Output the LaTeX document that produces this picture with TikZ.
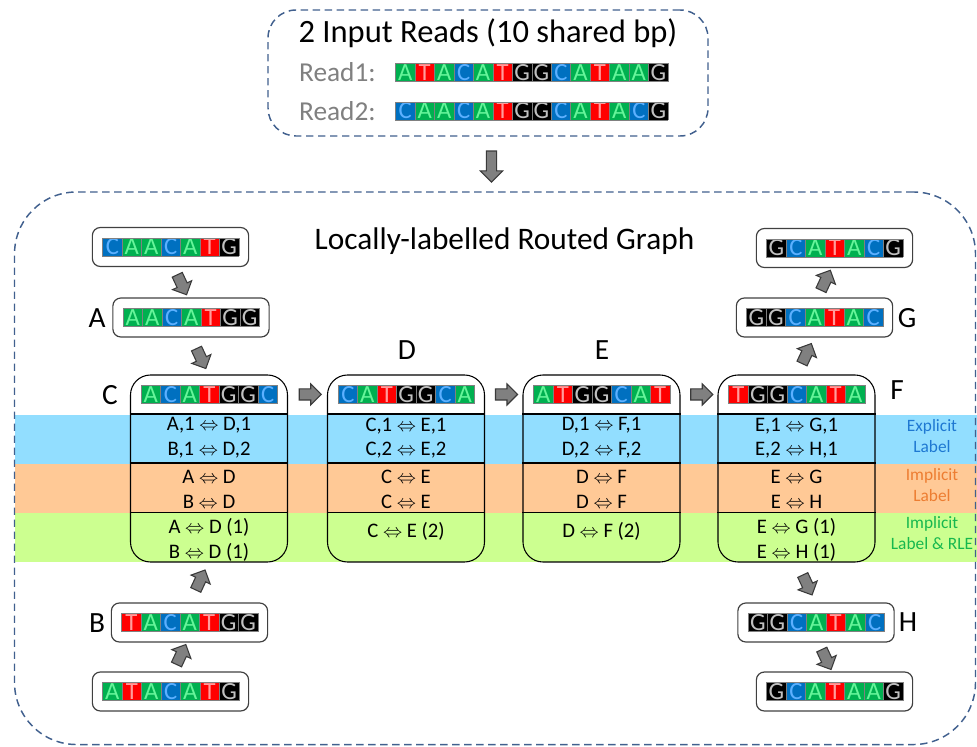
\documentclass[tikz,border=0pt]{standalone}
\usepackage{fontspec}
\setmainfont{Carlito}
\usetikzlibrary{shapes.arrows,calc}
\definecolor{Abg}{HTML}{00B050}
\definecolor{Afg}{HTML}{66F59A}
\definecolor{Tbg}{HTML}{FF0000}
\definecolor{Tfg}{HTML}{FF9C9C}
\definecolor{Cbg}{HTML}{0070C0}
\definecolor{Cfg}{HTML}{5CB0FF}
\definecolor{Gbg}{HTML}{000000}
\definecolor{Gfg}{HTML}{C0C0C0}
\definecolor{cellbd}{HTML}{808080}
\definecolor{bandB}{HTML}{92DEFF}
\definecolor{bandO}{HTML}{FFC996}
\definecolor{bandG}{HTML}{CCFF90}
\definecolor{labB}{HTML}{1E78D2}
\definecolor{labO}{HTML}{ED7D31}
\definecolor{labG}{HTML}{16B84E}
\definecolor{dashc}{HTML}{41608E}
\definecolor{arrowfill}{HTML}{808080}
\definecolor{arrowdraw}{HTML}{3A3A3A}
\definecolor{readgray}{HTML}{808080}
\definecolor{boxc}{HTML}{404040}
\setlength{\fboxsep}{0pt}
\setlength{\fboxrule}{0.4pt}
\newlength\cellw \setlength\cellw{14.2pt}
\newlength\cellh \setlength\cellh{13.45pt}
\newlength\celldp \setlength\celldp{0.8pt}
\newcommand\cell[3]{\fcolorbox{cellbd}{#1}{\makebox[\cellw][c]{\rule[-\celldp]{0pt}{\cellh}\textcolor{#2}{#3}}}\kern-\fboxrule}
\def\bA{\cell{Abg}{Afg}{A}}
\def\bT{\cell{Tbg}{Tfg}{T}}
\def\bC{\cell{Cbg}{Cfg}{C}}
\def\bG{\cell{Gbg}{Gfg}{G}}
\def\seq#1{\seqloop#1\relax}
\def\seqloop#1{\ifx\relax#1\else\csname b#1\endcsname\expandafter\seqloop\fi}
\newcommand\seqfont{\fontsize{18.5}{18.5}\selectfont}
\newcommand\lr{$\Leftrightarrow$}
\begin{document}
\begin{tikzpicture}[x=0.75pt,y=-0.75pt,
 dashbox/.style={draw=dashc, line width=1.1pt, dash pattern=on 5.5pt off 3.5pt, inner sep=0pt},
 seqbox/.style={draw=boxc, line width=0.9pt, rounded corners=6pt, inner sep=7.5pt, font=\seqfont},
 seqplain/.style={inner sep=0pt, font=\seqfont},
 bigbox/.style={draw=black, line width=0.8pt, rounded corners=15pt, minimum width=117.75pt, minimum height=140.25pt, inner sep=0pt},
 edgetxt/.style={font=\fontsize{15.5}{18.5}\selectfont, align=center, inner sep=0pt},
 nlab/.style={font=\fontsize{22}{26}\selectfont, inner sep=0pt},
 bandlab/.style={font=\fontsize{13}{15.5}\selectfont, align=center, inner sep=0pt},
 readlab/.style={font=\fontsize{20.5}{24}\selectfont, text=readgray, inner sep=0pt},
 barrow/.style={single arrow, draw=arrowdraw, fill=arrowfill, line width=0.8pt, minimum height=16.5pt, minimum width=15pt, single arrow head extend=3.75pt, single arrow head indent=0pt, inner xsep=0pt, inner ysep=3.75pt},
 bigarrow/.style={barrow, minimum height=23.25pt, minimum width=15.75pt, single arrow head extend=4.5pt, inner ysep=3.4pt}]
\useasboundingbox (0,0) rectangle (977,746);
% bands
\fill[bandB] (15,414.5) rectangle (977,463.5);
\fill[bandO] (15,463.5) rectangle (977,513);
\fill[bandG] (15,513) rectangle (977,562);
% boxes
\node[dashbox, minimum width=330pt, minimum height=94.5pt, rounded corners=21pt] (inbox) at (488,73) {};
\node[dashbox, minimum width=720.75pt, minimum height=414.4pt, rounded corners=46.5pt] (graph) at (495,468.25) {};
% input reads
\node[font=\fontsize{24.4}{28}\selectfont, inner sep=0pt] (title) at (488,33) {2 Input Reads (10 shared bp)};
\node[readlab, anchor=east] (r1lab) at (376,72) {Read1:};
\node[readlab, anchor=east] (r2lab) at (376,111) {Read2:};
\node[seqplain] (r1) at (531.5,72.5) {\seq{ATACATGGCATAAG}};
\node[seqplain] (r2) at (531.5,111) {\seq{CAACATGGCATACG}};
\node[bigarrow, rotate=-90] (down) at ($(inbox.south)!0.5!(graph.north)$) {};
% graph title
\node[font=\fontsize{23.5}{27}\selectfont, inner sep=0pt] (gtitle) at (504.5,241) {Locally-labelled Routed Graph};
% small nodes
\node[seqbox] (s1) at (170.5,247) {\seq{CAACATG}};
\node[seqbox] (A) at (191,317.5) {\seq{AACATGG}};
\node[seqbox] (B) at (189.5,622.5) {\seq{TACATGG}};
\node[seqbox] (s2) at (170.5,691.5) {\seq{ATACATG}};
\node[seqbox] (G) at (814.5,317.5) {\seq{GGCATAC}};
\node[seqbox] (s3) at (834.5,248) {\seq{GCATACG}};
\node[seqbox] (H) at (816,622.5) {\seq{GGCATAC}};
\node[seqbox] (s4) at (834.5,691.5) {\seq{GCATAAG}};
% labels
\node[nlab] (Alab) at (97,318) {A};
\node[nlab] (Blab) at (97,623) {B};
\node[nlab] (Clab) at (110,395) {C};
\node[nlab] (Dlab) at (407,350) {D};
\node[nlab] (Elab) at (602,350) {E};
\node[nlab] (Flab) at (897,390) {F};
\node[nlab] (Glab) at (907,318) {G};
\node[nlab] (Hlab) at (908,622) {H};
% big nodes
\node[bigbox] (Cbox) at (209,468.5) {};
\node[bigbox] (Dbox) at (406,468.5) {};
\node[bigbox] (Ebox) at (601.5,468.5) {};
\node[bigbox] (Fbox) at (796.5,468.5) {};
\foreach \b in {Cbox,Dbox,Ebox,Fbox}{
  \foreach \yy in {39.5,88.5,138}{
    \draw[line width=0.8pt] ($(\b.north west)+(0,\yy)$) -- ($(\b.north east)+(0,\yy)$);
  }
}
\node[seqplain] (Cseq) at ($(Cbox.north)+(0,20)$) {\seq{ACATGGC}};
\node[seqplain] (Dseq) at ($(Dbox.north)+(0,20)$) {\seq{CATGGCA}};
\node[seqplain] (Eseq) at ($(Ebox.north)+(0,20)$) {\seq{ATGGCAT}};
\node[seqplain] (Fseq) at ($(Fbox.north)+(0,20)$) {\seq{TGGCATA}};
% edge texts
\node[edgetxt] (C1) at ($(Cbox.north)+(0,63.5)$) {A,1 \lr{} D,1\\B,1 \lr{} D,2};
\node[edgetxt] (C2) at ($(Cbox.north)+(0,115)$) {A \lr{} D\\B \lr{} D};
\node[edgetxt] (C3) at ($(Cbox.north)+(0,165.5)$) {A \lr{} D (1)\\B \lr{} D (1)};
\node[edgetxt] (D1) at ($(Dbox.north)+(0,63.5)$) {C,1 \lr{} E,1\\C,2 \lr{} E,2};
\node[edgetxt] (D2) at ($(Dbox.north)+(0,115)$) {C \lr{} E\\C \lr{} E};
\node[edgetxt] (D3) at ($(Dbox.north)+(0,157)$) {C \lr{} E (2)};
\node[edgetxt] (E1) at ($(Ebox.north)+(0,63.5)$) {D,1 \lr{} F,1\\D,2 \lr{} F,2};
\node[edgetxt] (E2) at ($(Ebox.north)+(0,115)$) {D \lr{} F\\D \lr{} F};
\node[edgetxt] (E3) at ($(Ebox.north)+(0,157)$) {D \lr{} F (2)};
\node[edgetxt] (F1) at ($(Fbox.north)+(0,63.5)$) {E,1 \lr{} G,1\\E,2 \lr{} H,1};
\node[edgetxt] (F2) at ($(Fbox.north)+(0,115)$) {E \lr{} G\\E \lr{} H};
\node[edgetxt] (F3) at ($(Fbox.north)+(0,165.5)$) {E \lr{} G (1)\\E \lr{} H (1)};
% band labels
\node[bandlab, text=labB] (bl1) at (932,436) {Explicit\\Label};
\node[bandlab, text=labO] (bl2) at (932,485) {Implicit\\Label};
\node[bandlab, text=labG] (bl3) at (932,533) {Implicit\\Label \& RLE};
% arrows
\node[barrow, rotate=-65] (a1) at ($(s1.south)!0.5!(A.north)$) {};
\node[barrow, rotate=-65] (a2) at ($(A.south)!0.5!(Cbox.north)$) {};
\node[barrow, rotate=65] (a3) at ($(s2.north)!0.5!(B.south)$) {};
\node[barrow, rotate=65] (a4) at ($(B.north)!0.5!(Cbox.south)$) {};
\node[barrow] (h1) at ($(Cseq.east)!0.5!(Dseq.west)$) {};
\node[barrow] (h2) at ($(Dseq.east)!0.5!(Eseq.west)$) {};
\node[barrow] (h3) at ($(Eseq.east)!0.5!(Fseq.west)$) {};
\node[barrow, rotate=65] (a5) at ($(Fbox.north)!0.5!(G.south)$) {};
\node[barrow, rotate=65] (a6) at ($(G.north)!0.5!(s3.south)$) {};
\node[barrow, rotate=-65] (a7) at ($(Fbox.south)!0.5!(H.north)$) {};
\node[barrow, rotate=-65] (a8) at ($(H.south)!0.5!(s4.north)$) {};
\end{tikzpicture}
\end{document}
